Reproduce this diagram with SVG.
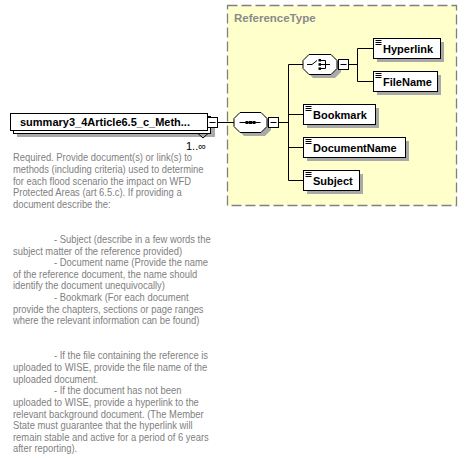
<svg xmlns="http://www.w3.org/2000/svg" width="468" height="458" viewBox="0 0 468 458">
<style>
.el{fill:#fff;stroke:#000;stroke-width:1}
.sh{fill:#a9a9a9;stroke:none}
.name{font-family:"Liberation Sans",Arial,sans-serif;font-size:11px;font-weight:bold;fill:#000}
.doc{stroke:#000;stroke-width:1}
.con{stroke:#000;stroke-width:1;fill:none}
.minus{fill:#fff;stroke:#000;stroke-width:1}
.ann{font-family:"Liberation Sans",Arial,sans-serif;font-size:11px;fill:#808080}
</style>
<rect width="468" height="458" fill="#fff"/>

<g id="ReferenceType">
<rect x="227.5" y="5.5" width="229" height="200" fill="#ffffcc" stroke="#808080" stroke-width="1.3" stroke-dasharray="10,4"/>
<text x="234" y="22" font-family="'Liberation Sans',Arial,sans-serif" font-size="11.5" font-weight="bold" fill="#8a8a8a">ReferenceType</text>
</g>

<g id="connectors">
<path class="con" d="M217.5,122.5H234"/>
<path class="con" d="M278.5,122.5H288.5M288.5,64.5V180.5M288.5,64.5H303M288.5,114.5H303M288.5,147.5H303M288.5,180.5H303"/>
<path class="con" d="M348.5,64.5H357.5M357.5,48.5V81.5M357.5,48.5H373M357.5,81.5H373"/>
</g>

<g id="main">
<rect class="sh" x="17" y="120" width="198" height="17"/>
<rect class="el" x="13.5" y="116.5" width="197" height="17"/>
<rect class="el" x="10.5" y="113.5" width="197" height="17"/>
<text class="name" x="20" y="126">summary3_4Article6.5_c_Meth...</text>
<rect class="minus" x="207.5" y="117.5" width="10" height="10"/>
<path d="M209.5,122.5H215.5" stroke="#000"/>
<path class="con" d="M198,133.5L203,138L208,133.5"/>
<text x="186" y="150" font-family="'Liberation Sans',Arial,sans-serif" font-size="11" fill="#000">1..∞</text>
</g>

<g id="sequence">
<polygon class="sh" points="244,116 265,116 271,122 271,130 265,136 244,136 238,130 238,122"/>
<polygon class="el" points="240,112.5 261,112.5 267,118.5 267,126.5 261,132.5 240,132.5 234,126.5 234,118.5"/>
<path d="M239.5,122.5H260.5" stroke="#000"/>
<rect x="245.5" y="121" width="3" height="3" fill="#000"/>
<rect x="249" y="121" width="3" height="3" fill="#000"/>
<rect x="252.5" y="121" width="3" height="3" fill="#000"/>
<rect class="minus" x="268.5" y="117.5" width="10" height="10"/>
<path d="M270.5,122.5H276.5" stroke="#000"/>
</g>

<g id="choice">
<polygon class="sh" points="313,58 335,58 341,64 341,72 335,78 313,78 307,72 307,64"/>
<polygon class="el" points="309,54.5 331,54.5 337,60.5 337,68.5 331,74.5 309,74.5 303,68.5 303,60.5"/>
<path d="M307,64.5H312L317,60.5" stroke="#000" fill="none"/>
<rect x="318.5" y="59" width="2.5" height="2.5" fill="#000"/>
<rect x="318.5" y="63.2" width="2.5" height="2.5" fill="#000"/>
<rect x="318.5" y="67.4" width="2.5" height="2.5" fill="#000"/>
<path d="M321,60.5H325.5V68.5H321M321,64.5H330" stroke="#000" fill="none"/>
<rect class="minus" x="338.5" y="59.5" width="10" height="10"/>
<path d="M340.5,64.5H346.5" stroke="#000"/>
</g>

<g id="Hyperlink">
<rect class="sh" x="377" y="42" width="67" height="20"/>
<rect class="el" x="373.5" y="38.5" width="67" height="20"/>
<path class="doc" d="M375.5,40.5H381.5M375.5,42.5H381.5M375.5,44.5H381.5"/>
<text class="name" x="383" y="53">Hyperlink</text>
</g>

<g id="FileName">
<rect class="sh" x="377" y="75" width="64" height="20"/>
<rect class="el" x="373.5" y="71.5" width="64" height="20"/>
<path class="doc" d="M375.5,73.5H381.5M375.5,75.5H381.5M375.5,77.5H381.5"/>
<text class="name" x="383" y="86">FileName</text>
</g>

<g id="Bookmark">
<rect class="sh" x="307" y="108" width="72" height="20"/>
<rect class="el" x="303.5" y="104.5" width="72" height="20"/>
<path class="doc" d="M305.5,106.5H311.5M305.5,108.5H311.5M305.5,110.5H311.5"/>
<text class="name" x="313" y="119">Bookmark</text>
</g>

<g id="DocumentName">
<rect class="sh" x="307" y="141" width="102" height="20"/>
<rect class="el" x="303.5" y="137.5" width="102" height="20"/>
<path class="doc" d="M305.5,139.5H311.5M305.5,141.5H311.5M305.5,143.5H311.5"/>
<text class="name" x="313" y="152">DocumentName</text>
</g>

<g id="Subject">
<rect class="sh" x="307" y="174" width="56" height="20"/>
<rect class="el" x="303.5" y="170.5" width="56" height="20"/>
<path class="doc" d="M305.5,172.5H311.5M305.5,174.5H311.5M305.5,176.5H311.5"/>
<text class="name" x="313" y="185">Subject</text>
</g>

<g id="annotation" transform="scale(0.855,1)" class="ann">
<text x="15.2" y="161.5">Required. Provide document(s) or link(s) to</text>
<text x="15.2" y="173.1">methods (including criteria) used to determine</text>
<text x="15.2" y="184.8">for each flood scenario the impact on WFD</text>
<text x="15.2" y="196.4">Protected Areas (art 6.5.c). If providing a</text>
<text x="15.2" y="208.1">document describe the:</text>
<text x="63.2" y="243.0">- Subject (describe in a few words the</text>
<text x="15.2" y="254.6">subject matter of the reference provided)</text>
<text x="63.2" y="266.3">- Document name (Provide the name</text>
<text x="15.2" y="277.9">of the reference document, the name should</text>
<text x="15.2" y="289.5">identify the document unequivocally)</text>
<text x="63.2" y="301.2">- Bookmark (For each document</text>
<text x="15.2" y="312.8">provide the chapters, sections or page ranges</text>
<text x="15.2" y="324.5">where the relevant information can be found)</text>
<text x="63.2" y="359.4">- If the file containing the reference is</text>
<text x="15.2" y="371.0">uploaded to WISE, provide the file name of the</text>
<text x="15.2" y="382.7">uploaded document.</text>
<text x="63.2" y="394.3">- If the document has not been</text>
<text x="15.2" y="405.9">uploaded to WISE, provide a hyperlink to the</text>
<text x="15.2" y="417.6">relevant background document. (The Member</text>
<text x="15.2" y="429.2">State must guarantee that the hyperlink will</text>
<text x="15.2" y="440.9">remain stable and active for a period of 6 years</text>
<text x="15.2" y="452.5">after reporting).</text>
</g>
</svg>
